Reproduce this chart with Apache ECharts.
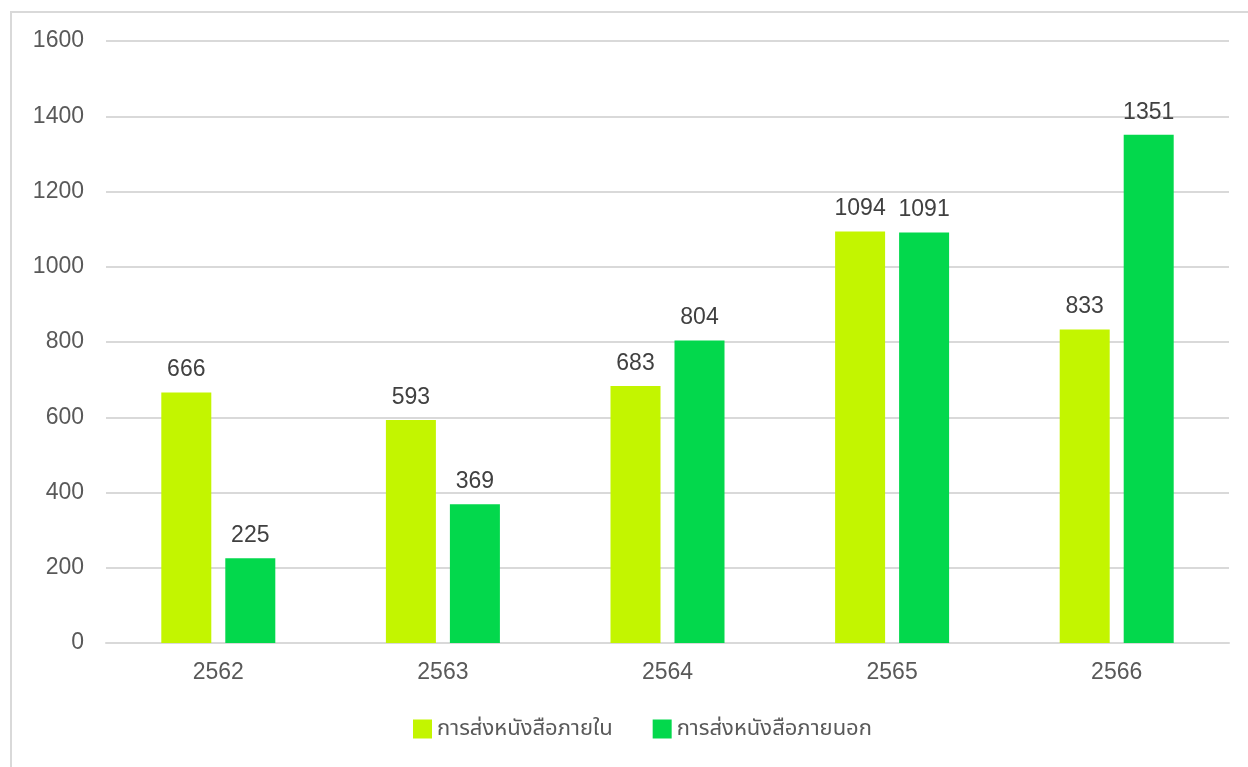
<!DOCTYPE html>
<html><head><meta charset="utf-8">
<script src="https://cdn.jsdelivr.net/npm/echarts@6/dist/echarts.min.js"></script>
<style>html,body{margin:0;padding:0;background:#fff}#c{width:1248px;height:767px}</style>
</head><body><div id="c"></div>
<script>
const categories = ['2562','2563','2564','2565','2566'];
const seriesNames = ['การส่งหนังสือภายใน','การส่งหนังสือภายนอก'];
const internalValues = [666, 593, 683, 1094, 833];
const externalValues = [225, 369, 804, 1091, 1351];
const FONT = '"Liberation Sans", "Noto Sans", "Noto Sans Thai", sans-serif';
const chart = echarts.init(document.getElementById('c'));
chart.setOption({
  animation: false,
  textStyle: { fontFamily: FONT },
  graphic: [{ type: 'polyline', shape: { points: [[11, 780], [11, 12], [1260, 12]] }, style: { stroke: '#d9d9d9', lineWidth: 2, fill: null } }],
  grid: { left: 106, right: 19, top: 41, bottom: 124 },
  legend: {
    bottom: 22, left: 408, itemWidth: 19, itemHeight: 19, itemGap: 40,
    icon: 'rect',
    textStyle: { fontSize: 22, color: '#595959', fontFamily: FONT }
  },
  xAxis: {
    type: 'category', data: categories,
    axisLine: { lineStyle: { color: '#d9d9d9', width: 2 } },
    axisTick: { show: false },
    axisLabel: { fontSize: 23, color: '#595959', margin: 18 }
  },
  yAxis: {
    type: 'value', min: 0, max: 1600, interval: 200,
    axisLine: { show: false }, axisTick: { show: false },
    splitLine: { lineStyle: { color: '#d9d9d9', width: 2 } },
    axisLabel: { fontSize: 23, color: '#595959', margin: 22, formatter: v => String(v) }
  },
  series: [
    { name: seriesNames[0], type: 'bar', data: internalValues, barWidth: 50, barGap: '28%',
      itemStyle: { color: '#c3f500' },
      label: { show: true, position: 'top', distance: 11, fontSize: 23, color: '#404040' } },
    { name: seriesNames[1], type: 'bar', data: externalValues, barWidth: 50,
      itemStyle: { color: '#03d84c' },
      label: { show: true, position: 'top', distance: 11, fontSize: 23, color: '#404040' } }
  ]
});
</script></body></html>
